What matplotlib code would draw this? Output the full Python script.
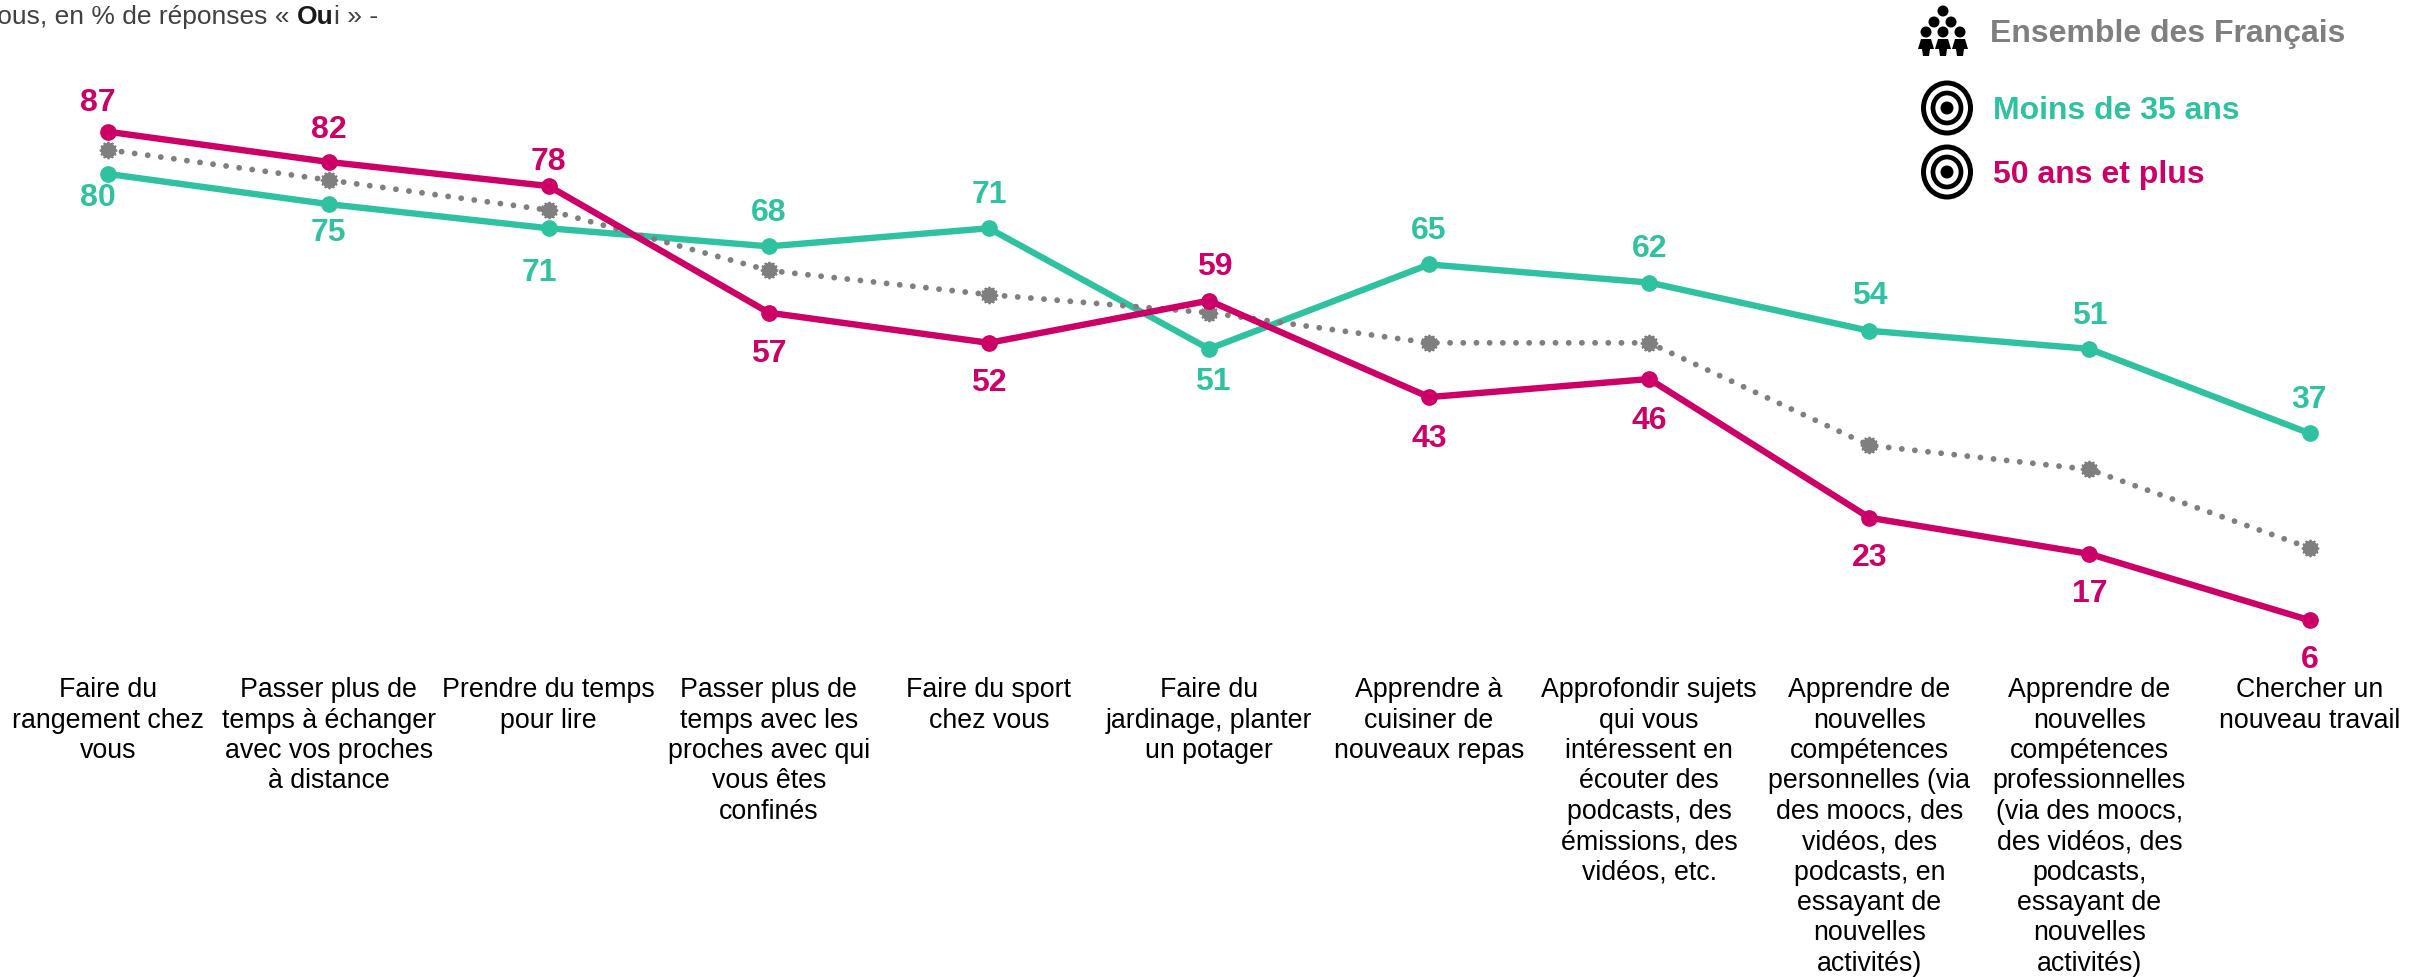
import matplotlib
matplotlib.use("Agg")
import matplotlib.pyplot as plt
from matplotlib.patches import Circle, Ellipse, Polygon

plt.rcParams['font.family'] = ['Liberation Sans', 'DejaVu Sans']

categories = [
    "Faire du\nrangement chez\nvous",
    "Passer plus de\ntemps à échanger\navec vos proches\nà distance",
    "Prendre du temps\npour lire",
    "Passer plus de\ntemps avec les\nproches avec qui\nvous êtes\nconfinés",
    "Faire du sport\nchez vous",
    "Faire du\njardinage, planter\nun potager",
    "Apprendre à\ncuisiner de\nnouveaux repas",
    "Approfondir sujets\nqui vous\nintéressent en\nécouter des\npodcasts, des\némissions, des\nvidéos, etc.",
    "Apprendre de\nnouvelles\ncompétences\npersonnelles (via\ndes moocs, des\nvidéos, des\npodcasts, en\nessayant de\nnouvelles\nactivités)",
    "Apprendre de\nnouvelles\ncompétences\nprofessionnelles\n(via des moocs,\ndes vidéos, des\npodcasts,\nessayant de\nnouvelles\nactivités)",
    "Chercher un\nnouveau travail",
]
ensemble = [84, 79, 74, 64, 60, 57, 52, 52, 35, 31, 18]
moins_35 = [80, 75, 71, 68, 71, 51, 65, 62, 54, 51, 37]
plus_50 = [87, 82, 78, 57, 52, 59, 43, 46, 23, 17, 6]

GREEN = '#2FC2A0'
PINK = '#CC0066'
GREY = '#7F7F7F'

# label offsets in points (dx, dy)
green_off = [(-8, -17), (0, -21), (-7, -32), (0, 24), (0, 24), (3, -24), (0, 24), (0, 24), (0, 25), (0, 24), (0, 24)]
pink_off = [(-8, 21), (0, 23), (0, 17), (0, -30), (0, -29), (4, 24), (0, -30), (0, -30), (0, -29), (0, -29), (0, -29)]

W, H = 2430, 977
fig = plt.figure(figsize=(W / 100, H / 100), dpi=100)
x = list(range(len(categories)))

# axes bottom is value 0, sits at pixel row 656
ax = fig.add_axes([0, (H - 656.4) / H, 1, 656.4 / H])
ax.set_xlim(-108.5 / 220.1, (W - 108.5) / 220.1)
ax.set_ylim(0, 656.4 / 6.03)
for s in ax.spines.values():
    s.set_visible(False)
ax.set_yticks([])
ax.set_xticks(x)
ax.set_xticklabels(categories, fontsize=19.3, color='black', linespacing=1.22)
ax.tick_params(axis='x', length=0, pad=15)

ax.plot(x, moins_35, color=GREEN, lw=4.6, marker='o', ms=11, zorder=3)
ax.plot(x, ensemble, color=GREY, lw=4.2, dashes=(0.01, 2.25), dash_capstyle='round', zorder=4)
ax.plot(x, ensemble, ls='none', color=GREY, marker='o', ms=10, zorder=4)
ax.plot(x, ensemble, ls='none', color=GREY, marker=(12, 2, 0), ms=12.5, mew=1.3, zorder=4)
ax.plot(x, plus_50, color=PINK, lw=4.6, marker='o', ms=11, zorder=5)

for xi, v, off in zip(x, moins_35, green_off):
    ax.annotate(str(v), (xi, v), xytext=off, textcoords='offset points', ha='center', va='center',
                color=GREEN, fontsize=23, fontweight='bold', zorder=6)
for xi, v, off in zip(x, plus_50, pink_off):
    ax.annotate(str(v), (xi, v), xytext=off, textcoords='offset points', ha='center', va='center',
                color=PINK, fontsize=23, fontweight='bold', zorder=6)

# overlay in pixels for the legend icons and header
ov = fig.add_axes([0, 0, 1, 1], facecolor='none')
ov.set_xlim(0, W)
ov.set_ylim(H, 0)
ov.axis('off')

# header line, cut by the left edge like the original
renderer = fig.canvas.get_renderer()
parts = [("vous, en % de réponses « ", 'normal', '#404040'), ("Ou", 'bold', '#1a1a1a'), ("i » -", 'normal', '#404040')]
px = -16
for txt, weight, col in parts:
    t = ov.text(px, 17, txt, fontsize=19, fontweight=weight, color=col, va='center', ha='left')
    px = ov.transData.inverted().transform(t.get_window_extent(renderer).get_points())[1][0]

# legend
ov.text(1990, 34, "Ensemble des Français", color=GREY, fontsize=23, fontweight='bold', va='center')
ov.text(1993, 111, "Moins de 35 ans", color=GREEN, fontsize=23, fontweight='bold', va='center')
ov.text(1993, 175, "50 ans et plus", color=PINK, fontsize=23, fontweight='bold', va='center')

for cy in [108, 172]:
    ov.add_patch(Ellipse((1947, cy), 47, 50, fc='white', ec='black', lw=3.6))
    ov.add_patch(Ellipse((1947, cy), 28, 30, fc='white', ec='black', lw=3.4))
    ov.add_patch(Circle((1947, cy), 6.5, fc='black', ec='none'))

for hx, hy in [(1943, 11), (1934, 22), (1951, 22)]:
    ov.add_patch(Circle((hx, hy), 5.5, fc='black', ec='none'))
for hx in [1926, 1943, 1960]:
    ov.add_patch(Circle((hx, 32), 5.5, fc='black', ec='none'))
    ov.add_patch(Polygon([(hx - 5, 39), (hx + 5, 39), (hx + 8, 49), (hx + 4, 49), (hx + 3, 56),
                          (hx - 3, 56), (hx - 4, 49), (hx - 8, 49)], fc='black', ec='none'))

fig.savefig('out.png', dpi=100)
